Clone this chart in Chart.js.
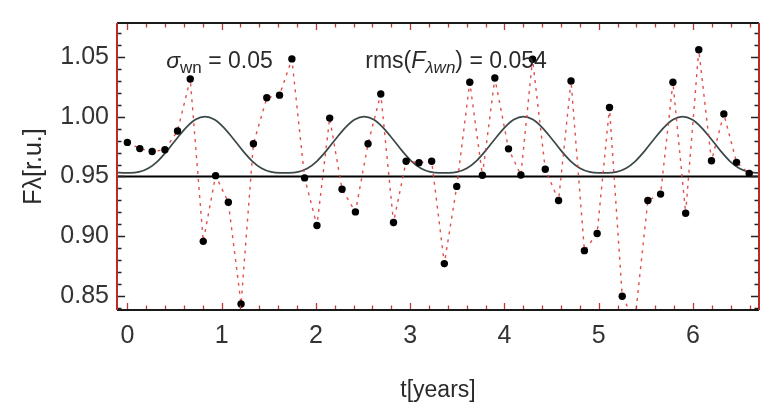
<!DOCTYPE html>
<html><head><meta charset="utf-8">
<script src="https://cdn.jsdelivr.net/npm/chart.js@4.4.1/dist/chart.umd.min.js"></script>
<style>html,body{margin:0;padding:0;background:#fff}#wrap{width:770px;height:412px}</style>
</head><body><div id="wrap"><canvas id="c" width="770" height="412"></canvas></div>
<script>
// ---- data ----
const timeYears = [0.000,0.132,0.263,0.398,0.532,0.667,0.805,0.936,1.071,1.206,
  1.337,1.479,1.614,1.745,1.880,2.011,2.146,2.277,2.419,2.553,
  2.688,2.823,2.957,3.093,3.228,3.362,3.494,3.632,3.766,3.898,
  4.043,4.174,4.298,4.433,4.574,4.706,4.848,4.983,5.114,5.249,
  5.383,5.521,5.656,5.787,5.922,6.061,6.196,6.327,6.462,6.596];
const fluxObs = [0.9785,0.9733,0.9709,0.9723,0.9880,1.0315,0.8958,0.9507,0.9285,0.8434,
  0.9774,1.0158,1.0180,1.0483,0.9488,0.9090,0.9988,0.9393,0.9204,0.9774,
  1.0190,0.9115,0.9628,0.9615,0.9628,0.8772,0.9417,1.0288,0.9510,1.0323,
  0.9731,0.9512,1.0480,0.9561,0.9299,1.0299,0.8880,0.9023,1.0077,0.8499,
  0.8290,0.9299,0.9353,1.0288,0.9193,1.0560,0.9631,1.0023,0.9618,0.9526];
const modelTime = [-0.110,-0.022,
  0.023,0.123,0.223,0.323,0.423,0.523,0.623,0.723,0.823,0.923,1.023,1.123,1.223,1.323,1.423,1.523,1.623,
  1.668,
  1.712,1.812,1.912,2.012,2.112,2.212,2.312,2.412,2.512,2.612,2.712,2.812,2.912,3.012,3.112,3.212,3.312,
  3.357,
  3.401,3.501,3.601,3.701,3.801,3.901,4.001,4.101,4.201,4.301,4.401,4.501,4.601,4.701,4.801,4.901,5.001,
  5.046,
  5.090,5.190,5.290,5.390,5.490,5.590,5.690,5.790,5.890,5.990,6.090,6.190,6.290,6.390,6.490,6.590,6.690,
  6.735];
const modelFlux = [0.9533,0.9530,
  0.9530,0.9538,0.9569,0.9629,0.9716,0.9816,0.9909,0.9976,1.0000,0.9976,0.9909,0.9816,0.9716,0.9629,0.9569,0.9538,0.9530,
  0.9530,
  0.9530,0.9538,0.9569,0.9629,0.9716,0.9816,0.9909,0.9976,1.0000,0.9976,0.9909,0.9816,0.9716,0.9629,0.9569,0.9538,0.9530,
  0.9530,
  0.9530,0.9538,0.9569,0.9629,0.9716,0.9816,0.9909,0.9976,1.0000,0.9976,0.9909,0.9816,0.9716,0.9629,0.9569,0.9538,0.9530,
  0.9530,
  0.9530,0.9538,0.9569,0.9629,0.9716,0.9816,0.9909,0.9976,1.0000,0.9976,0.9909,0.9816,0.9716,0.9629,0.9569,0.9538,0.9530,
  0.9530];
const xTickValues = [0,1,2,3,4,5,6];
const xTickLabels = ['0','1','2','3','4','5','6'];
const yTickValues = [0.85,0.90,0.95,1.00,1.05];
const yTickLabels = ['0.85','0.90','0.95','1.00','1.05'];
const baselineFlux = 0.95;
const xRange = [-0.11, 6.70];
const yRange = [0.8384, 1.0783];
const xMinorStep = 0.2, yMinorStep = 0.01;
const sigmaText = '0.05';
const rmsText = '0.054';
const ann1Anchor = {x: 0.412, y: 1.0404};
const ann2Anchor = {x: 2.523, y: 1.0404};

const FONT = "'Liberation Sans', Arial, sans-serif";

const framePlugin = {
  id: 'frame',
  beforeDatasetsDraw(chart) {
    const {ctx, chartArea: a, scales: {y}} = chart;
    const py = y.getPixelForValue(baselineFlux);
    ctx.save();
    ctx.strokeStyle = '#000'; ctx.lineWidth = 2;
    ctx.beginPath(); ctx.moveTo(a.left, py); ctx.lineTo(a.right, py); ctx.stroke();
    ctx.restore();
  },
  afterDatasetsDraw(chart) {
    const {ctx, chartArea: a, scales: {x, y}} = chart;
    ctx.save();
    ctx.lineWidth = 1.3;
    ctx.strokeStyle = '#b83a3a';
    const nx = Math.round((xRange[1]-xRange[0])/xMinorStep)+2;
    for (let i = -1; i < nx; i++) {
      const v = Math.round((Math.ceil(xRange[0]/xMinorStep)+i)*xMinorStep*1000)/1000;
      if (v < xRange[0] || v > xRange[1]) continue;
      const px = Math.round(x.getPixelForValue(v))+0.5;
      const major = Math.abs(v - Math.round(v)) < 1e-6;
      const L = major ? 7 : 4.5;
      ctx.beginPath();
      ctx.moveTo(px, a.bottom); ctx.lineTo(px, a.bottom - L);
      ctx.moveTo(px, a.top); ctx.lineTo(px, a.top + L);
      ctx.stroke();
    }
    ctx.strokeStyle = '#222';
    const ny = Math.round((yRange[1]-yRange[0])/yMinorStep)+2;
    for (let i = -1; i < ny; i++) {
      const v = Math.round((Math.ceil(yRange[0]/yMinorStep)+i)*yMinorStep*10000)/10000;
      if (v < yRange[0] || v > yRange[1]) continue;
      const py = Math.round(y.getPixelForValue(v))+0.5;
      const major = Math.abs(v*20 - Math.round(v*20)) < 1e-6;
      const L = major ? 8 : 4.5;
      ctx.beginPath();
      ctx.moveTo(a.left, py); ctx.lineTo(a.left + L, py);
      ctx.moveTo(a.right, py); ctx.lineTo(a.right - L, py);
      ctx.stroke();
    }
    ctx.lineWidth = 2;
    ctx.strokeStyle = '#1a1a1a';
    ctx.beginPath();
    ctx.moveTo(a.left, a.top); ctx.lineTo(a.right, a.top);
    ctx.moveTo(a.left, a.bottom); ctx.lineTo(a.right, a.bottom);
    ctx.stroke();
    ctx.strokeStyle = '#c02828';
    ctx.beginPath();
    ctx.moveTo(a.left, a.top); ctx.lineTo(a.left, a.bottom);
    ctx.moveTo(a.right, a.top); ctx.lineTo(a.right, a.bottom);
    ctx.stroke();
    ctx.restore();
  },
  afterDraw(chart) {
    const {ctx, scales: {x, y}} = chart;
    ctx.save();
    ctx.fillStyle = '#2a2a2a';
    ctx.textBaseline = 'alphabetic';
    ctx.textAlign = 'left';
    // draw a run of text pieces one after the other
    const run = (pieces, px, py) => {
      let cx = px;
      for (const [t, font, dy] of pieces) {
        ctx.font = font;
        ctx.fillText(t, cx, py + dy);
        cx += ctx.measureText(t).width;
      }
    };
    const big = '23px ' + FONT, bigI = 'italic 23px ' + FONT;
    const sub = '17px ' + FONT, subI = 'italic 17px ' + FONT;
    run([['σ', bigI, 0], ['wn', sub, 5], [' = ' + sigmaText, big, 0]],
        x.getPixelForValue(ann1Anchor.x), y.getPixelForValue(ann1Anchor.y));
    run([['rms(', big, 0], ['F', bigI, 0], ['λwn', subI, 5], [')', big, 0], [' = ' + rmsText, big, 0]],
        x.getPixelForValue(ann2Anchor.x), y.getPixelForValue(ann2Anchor.y));
    ctx.restore();
  }
};

new Chart(document.getElementById('c'), {
  type: 'scatter',
  data: {
    datasets: [
      {
        label: 'model',
        data: modelTime.map((t, i) => ({x: t, y: modelFlux[i]})),
        showLine: true,
        borderColor: '#3a4848',
        borderWidth: 1.7,
        pointRadius: 0,
        cubicInterpolationMode: 'monotone',
        clip: 0,
        order: 2
      },
      {
        label: 'obs',
        data: timeYears.map((t, i) => ({x: t, y: fluxObs[i]})),
        showLine: true,
        borderColor: 'rgba(222,60,60,0.9)',
        borderWidth: 1.4,
        borderDash: [3, 5],
        pointRadius: 3.7,
        pointBackgroundColor: '#000',
        pointBorderWidth: 0,
        tension: 0,
        clip: 0,
        order: 1
      }
    ]
  },
  options: {
    responsive: false,
    devicePixelRatio: 1,
    animation: false,
    layout: {padding: {left: 0, top: 14, right: 11, bottom: 0}},
    plugins: {legend: {display: false}, tooltip: {enabled: false}},
    scales: {
      x: {
        type: 'linear', min: xRange[0], max: xRange[1],
        afterFit: s => { s.height = 102; },
        afterBuildTicks: s => { s.ticks = xTickValues.map(v => ({value: v})); },
        grid: {display: false, drawTicks: false},
        border: {display: false},
        ticks: {
          autoSkip: false, maxRotation: 0, padding: 11, color: '#333',
          font: {family: FONT, size: 25},
          callback: (v) => xTickLabels[xTickValues.indexOf(v)]
        },
        title: {display: true, text: 't[years]', color: '#2a2a2a',
          font: {family: FONT, size: 23, lineHeight: 1.2}, padding: {top: 0, bottom: 8}}
      },
      y: {
        type: 'linear', min: yRange[0], max: yRange[1],
        afterFit: s => { s.width = 117; },
        afterBuildTicks: s => { s.ticks = yTickValues.map(v => ({value: v})); },
        grid: {display: false, drawTicks: false},
        border: {display: false},
        ticks: {
          autoSkip: false, padding: 8, color: '#333',
          font: {family: FONT, size: 25},
          callback: (v) => yTickLabels[yTickValues.findIndex(t => Math.abs(t - v) < 1e-9)]
        },
        title: {display: true, text: 'Fλ[r.u.]', color: '#2a2a2a',
          font: {family: FONT, size: 25, lineHeight: 1.2}, padding: {top: 19, bottom: 0}}
      }
    }
  },
  plugins: [framePlugin]
});
</script>
</body></html>
